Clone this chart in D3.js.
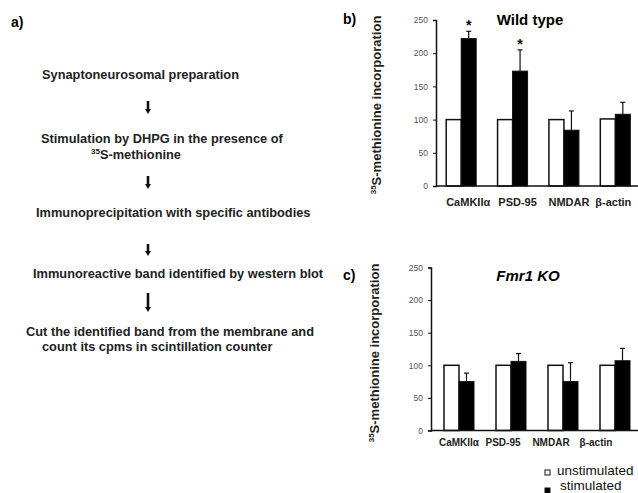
<!DOCTYPE html>
<html>
<head>
<meta charset="utf-8">
<script src="https://cdn.jsdelivr.net/npm/d3@7"></script>
<style>
  body { margin: 0; background: #fff; }
  svg { display: block; font-family: "Liberation Sans", Arial, sans-serif; }
</style>
</head>
<body>
<div id="chart"></div>
<script>
// categories and series
var categories = ["CaMKIIα", "PSD-95", "NMDAR", "β-actin"];
var series = ["unstimulated", "stimulated"];
var yTicks = [0, 50, 100, 150, 200, 250];

// wild type (panel b)
var wtUnstim = [100, 100, 100, 101];
var wtStim = [222, 173, 84, 108];
var wtStimErr = [11, 32, 29, 18];
var wtSignif = [true, true, false, false];

// Fmr1 KO (panel c)
var koUnstim = [100, 100, 100, 100];
var koStim = [75, 106, 75, 107];
var koStimErr = [13, 12, 29, 19];

// flow chart steps (panel a)
var steps = [
  ["Synaptoneurosomal preparation"],
  ["Stimulation by DHPG in the presence of", "^35S-methionine"],
  ["Immunoprecipitation with specific antibodies"],
  ["Immunoreactive band identified by western blot"],
  ["Cut the identified band from the membrane and", "count its cpms in scintillation counter"]
];

var svg = d3.select("#chart").append("svg")
  .attr("width", 638)
  .attr("height", 493);

// ---------- panel a ----------
svg.append("text")
  .attr("x", 11).attr("y", 27)
  .style("font-size", "14px").style("font-weight", "bold")
  .text("a)");

var stepLineX = [[42], [41, 91], [36], [33], [26, 42]];
var stepY = [[79], [143, 159], [217], [278], [336, 351]];
var arrowY = [[101, 114], [176, 189], [244, 256], [293, 312]];

steps.forEach(function (lines, i) {
  lines.forEach(function (ln, j) {
    var t = svg.append("text")
      .attr("x", stepLineX[i][j]).attr("y", stepY[i][j])
      .style("font-size", "12.8px").style("font-weight", "bold")
      .style("fill", "#222");
    if (ln.charAt(0) === "^") {
      t.append("tspan").attr("dy", -5).style("font-size", "8px").text("35");
      t.append("tspan").attr("dy", 5).text(ln.slice(3));
    } else {
      t.text(ln);
    }
  });
});

arrowY.forEach(function (a) {
  svg.append("line")
    .attr("x1", 148).attr("x2", 148)
    .attr("y1", a[0]).attr("y2", a[1] - 4)
    .attr("stroke", "#111").attr("stroke-width", 2.6);
  svg.append("path")
    .attr("d", "M" + 145 + "," + (a[1] - 5) + "L" + 151 + "," + (a[1] - 5) + "L" + 148 + "," + a[1] + "Z")
    .attr("fill", "#111");
});

// ---------- bar panels ----------
function drawPanel(opt) {
  var g = svg.append("g");

  var y = d3.scaleLinear().domain([0, 250]).range([opt.y0, opt.y250]);
  var x = d3.scaleBand().domain(categories).range([opt.xLeft, 641]).padding(0);
  var xs = d3.scaleBand().domain(series).range([-15, 15]).padding(0);

  // y axis
  var ya = g.append("g")
    .attr("transform", "translate(" + opt.axisX + ",0)")
    .call(d3.axisLeft(y).tickValues(yTicks).tickSize(3).tickPadding(5));
  ya.select(".domain").attr("stroke", "#111").attr("stroke-width", 1.5);
  ya.selectAll(".tick line").attr("stroke", "#111");
  ya.selectAll(".tick text")
    .style("font-size", "8.5px").style("fill", "#555")
    .style("font-family", "'Liberation Sans', Arial, sans-serif");

  // bars
  var groups = g.selectAll(".grp").data(categories).enter().append("g")
    .attr("transform", function (d) { return "translate(" + (x(d) + x.bandwidth() / 2) + ",0)"; });

  groups.append("rect")
    .attr("x", xs("unstimulated"))
    .attr("width", xs.bandwidth())
    .attr("y", function (d, i) { return y(opt.unstim[i]); })
    .attr("height", function (d, i) { return y(0) - y(opt.unstim[i]); })
    .attr("fill", "#fff").attr("stroke", "#111").attr("stroke-width", 1.5);

  groups.append("rect")
    .attr("x", xs("stimulated"))
    .attr("width", xs.bandwidth())
    .attr("y", function (d, i) { return y(opt.stim[i]); })
    .attr("height", function (d, i) { return y(0) - y(opt.stim[i]); })
    .attr("fill", "#000").attr("stroke", "#111").attr("stroke-width", 1);

  // error bars (upper only)
  var cx = xs("stimulated") + xs.bandwidth() / 2;
  groups.append("line")
    .attr("x1", cx).attr("x2", cx)
    .attr("y1", function (d, i) { return y(opt.stim[i]); })
    .attr("y2", function (d, i) { return y(opt.stim[i] + opt.err[i]); })
    .attr("stroke", "#111").attr("stroke-width", 1.2);
  groups.append("line")
    .attr("x1", cx - 2.5).attr("x2", cx + 2.5)
    .attr("y1", function (d, i) { return y(opt.stim[i] + opt.err[i]); })
    .attr("y2", function (d, i) { return y(opt.stim[i] + opt.err[i]); })
    .attr("stroke", "#111").attr("stroke-width", 1.2);

  if (opt.signif) {
    groups.filter(function (d, i) { return opt.signif[i]; })
      .append("text")
      .attr("x", cx)
      .attr("y", function (d) {
        var i = categories.indexOf(d);
        return y(opt.stim[i] + opt.err[i]) - 1;
      })
      .attr("text-anchor", "middle")
      .style("font-size", "14px").style("font-weight", "bold")
      .text("*");
  }

  // x baseline
  g.append("line")
    .attr("x1", opt.axisX).attr("x2", 638)
    .attr("y1", y(0)).attr("y2", y(0))
    .attr("stroke", "#111").attr("stroke-width", 1.5);

  // category labels
  g.selectAll(".cat").data(categories).enter().append("text")
    .attr("x", function (d, i) { return x(d) + x.bandwidth() / 2 + opt.labelShift[i]; })
    .attr("y", opt.labelY)
    .attr("text-anchor", "middle")
    .style("font-size", opt.labelSize).style("font-weight", "bold").style("fill", "#222")
    .text(function (d) { return d; });

  // y label
  var yl = g.append("text")
    .attr("transform", "translate(" + opt.ylabX + "," + ((opt.y0 + opt.y250) / 2 + opt.ylabShift) + ") rotate(-90)")
    .attr("text-anchor", "middle")
    .style("font-size", "13px").style("font-weight", "bold").style("fill", "#222");
  yl.append("tspan").attr("dy", -5).style("font-size", "8px").text("35");
  yl.append("tspan").attr("dy", 5).text("S-methionine incorporation");

  // title
  g.append("text")
    .attr("x", opt.titleX).attr("y", opt.titleY)
    .attr("text-anchor", "middle")
    .style("font-size", "15px").style("font-weight", "bold")
    .style("font-style", opt.titleItalic ? "italic" : "normal")
    .text(opt.title);

  // panel letter
  g.append("text")
    .attr("x", 343).attr("y", opt.letterY)
    .style("font-size", "14px").style("font-weight", "bold")
    .text(opt.letter);
}

drawPanel({
  unstim: wtUnstim, stim: wtStim, err: wtStimErr, signif: wtSignif,
  y0: 186, y250: 20, xLeft: 435.5, axisX: 436,
  labelY: 206, labelSize: "11px", labelShift: [7, 5, 5, -2],
  ylabX: 381, ylabShift: 2,
  title: "Wild type", titleX: 530, titleY: 25, titleItalic: false,
  letter: "b)", letterY: 24
});

drawPanel({
  unstim: koUnstim, stim: koStim, err: koStimErr, signif: null,
  y0: 430.5, y250: 267.5, xLeft: 433, axisX: 431,
  labelY: 446, labelSize: "10px", labelShift: [0, -8, -12, -19],
  ylabX: 379, ylabShift: 4,
  title: "Fmr1 KO", titleX: 528, titleY: 281, titleItalic: true,
  letter: "c)", letterY: 280
});

// legend
var legend = svg.append("g");
series.forEach(function (s, i) {
  legend.append("rect")
    .attr("x", 545).attr("y", 470 + i * 18)
    .attr("width", 5).attr("height", 5)
    .attr("fill", i === 0 ? "#fff" : "#000")
    .attr("stroke", "#111").attr("stroke-width", 1);
  legend.append("text")
    .attr("x", i === 0 ? 557 : 560).attr("y", 475 + i * 15)
    .style("font-size", "13.5px").style("fill", "#111")
    .text(s);
});
</script>
</body>
</html>
